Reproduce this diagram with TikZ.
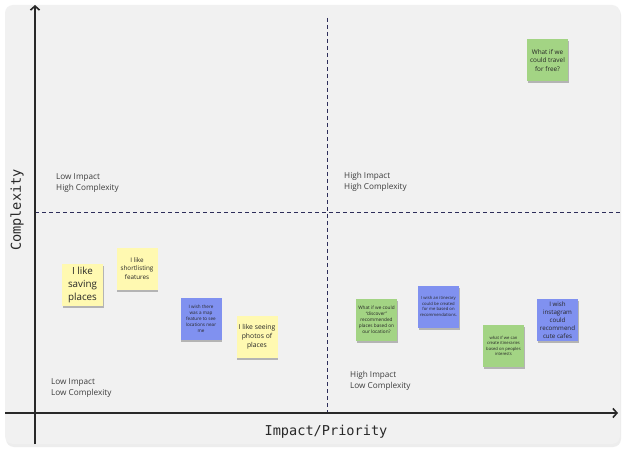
\documentclass[tikz,border=0pt]{standalone}
\usepackage{fontspec}
\setmainfont{Open Sans}
\setmonofont{DejaVu Sans Mono}
\usepackage{tikz}
\usetikzlibrary{
  arrows.meta,
  positioning,
  shadows
}
\definecolor{board}{RGB}{241,241,241}
\definecolor{inkgray}{RGB}{40,40,40}
\definecolor{midnight}{RGB}{45,45,90}
\definecolor{noteyellow}{RGB}{255,249,177}
\definecolor{noteblue}{RGB}{128,145,240}
\definecolor{notegreen}{RGB}{163,212,132}
\tikzset{
  axis/.style={inkgray,line width=1.6pt,-{Straight Barb[length=4pt,width=9pt,line width=1.6pt]}},
  divider/.style={midnight,line width=0.8pt,dash pattern=on 4pt off 3pt},
  quadlabel/.style={font=\fontsize{8.2}{11.5}\selectfont,text=inkgray!90,align=left,anchor=north west,inner sep=0pt},
  axislabel/.style={font=\ttfamily\fontsize{13.6}{15}\selectfont,text=inkgray},
  note/.style={minimum width=41pt,minimum height=42pt,align=center,
    inner sep=1pt,text=black!85,
    drop shadow={shadow xshift=0.6pt,shadow yshift=-2pt,opacity=0.25,fill=black}}
}
\newcommand{\sticky}[5]{%
  \pgfmathsetmacro{\lead}{#4*1.3}%
  \node[note,fill=#3,font=\fontsize{#4}{\lead}\selectfont] (#1) at (#2) {#5};%
}

\begin{document}
\begin{tikzpicture}[x=1pt,y=-1pt]
  \useasboundingbox (0,0) rectangle (625,452);
  \fill[white] (0,0) rectangle (625,452);
  \fill[black!7,rounded corners=8pt] (6,7) rectangle (621,447);
  \fill[board,rounded corners=8pt] (5,5) rectangle (620,444);

  % quadrant dividers
  \coordinate (vtop) at (327,18);
  \coordinate (vbot) at (327,412);
  \coordinate (hleft) at (35,212);
  \coordinate (hright) at (620,212);
  \draw[divider] (vtop) -- (vbot);
  \draw[divider] (hleft) -- (hright);

  % axes
  \coordinate (ybot) at (35,444);
  \coordinate (ytop) at (35,5);
  \coordinate (xleft) at (5,413);
  \coordinate (xright) at (618,413);
  \draw[axis] (ybot) -- (ytop);
  \draw[axis] (xleft) -- (xright);
  \node[axislabel,rotate=90] (ylab) at (17,210) {Complexity};
  \node[axislabel] (xlab) at (326,432) {Impact/Priority};

  % quadrant labels
  \node[quadlabel] (lihc) at (56,173) {Low Impact\\High Complexity};
  \node[quadlabel] (hihc) at (344,172) {High Impact\\High Complexity};
  \node[quadlabel] (lilc) at (51,378) {Low Impact\\Low Complexity};
  \node[quadlabel] (hilc) at (350,371) {High Impact\\Low Complexity};

  % sticky notes
  \sticky{saving}{82.5,285}{noteyellow}{9.8}{I like\\saving\\places}
  \sticky{shortlist}{137,268.5}{noteyellow}{6.3}{I like\\shortlisting\\features}
  \sticky{mapnear}{201,318.5}{noteblue}{4.6}{I wish there\\was a map\\feature to see\\locations near\\me}
  \sticky{photos}{257,337}{noteyellow}{6.8}{I like seeing\\photos of\\places}
  \sticky{discover}{376.5,320}{notegreen}{4.7}{What if we could\\``discover''\\recommended\\places based on\\our location?}
  \sticky{itinerary}{438.5,306.5}{noteblue}{4.2}{I wish an itinerary\\could be created\\for me based on\\recommendations.}
  \sticky{interests}{503.5,346}{notegreen}{4.2}{what if we can\\create itineraries\\based on peoples\\interests}
  \sticky{instagram}{557.5,320}{noteblue}{6.2}{I wish\\instagram\\could\\recommend\\cute cafes}
  \sticky{travel}{547.5,60.5}{notegreen}{6.4}{What if we\\could travel\\for free?}
\end{tikzpicture}
\end{document}
